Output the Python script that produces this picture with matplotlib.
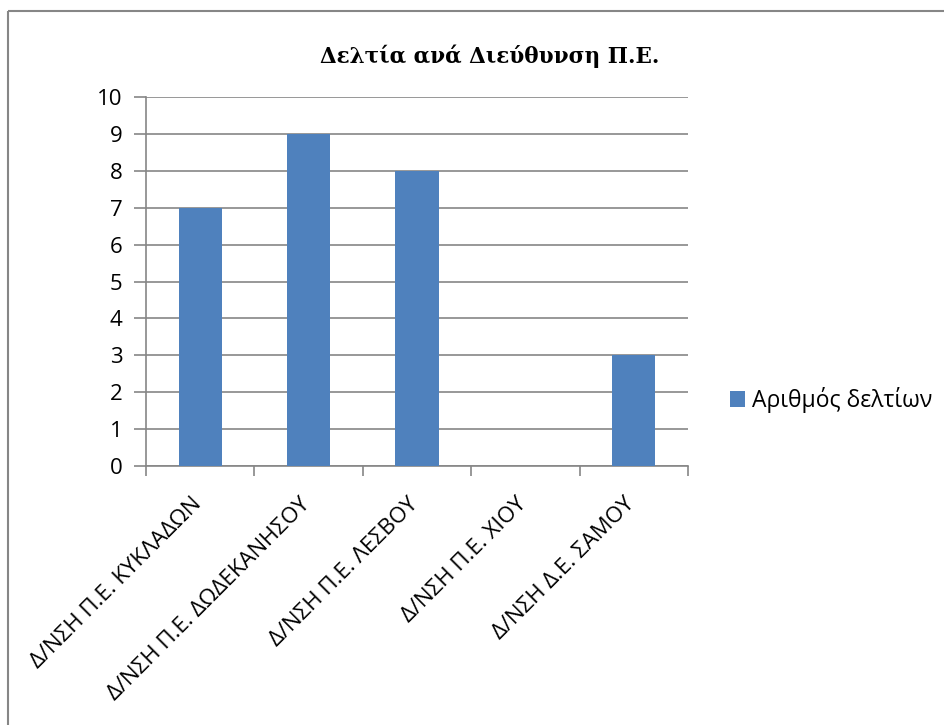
import matplotlib
matplotlib.use("Agg")
import numpy as np
from matplotlib import pyplot as plt
from matplotlib.patches import Rectangle

categories = ["Δ/ΝΣΗ Π.Ε. ΚΥΚΛΑΔΩΝ", "Δ/ΝΣΗ Π.Ε. ΔΩΔΕΚΑΝΗΣΟΥ", "Δ/ΝΣΗ Π.Ε. ΛΕΣΒΟΥ",
              "Δ/ΝΣΗ Π.Ε. ΧΙΟΥ", "Δ/ΝΣΗ Δ.Ε. ΣΑΜΟΥ"]
values = [7, 9, 8, 0, 3]
series_name = "Αριθμός δελτίων"
title = "Δελτία ανά Διεύθυνση Π.Ε."

bar_color = "#4F81BD"
grid_color = "#868686"
fsize = 16

W, H = 945, 725
fig = plt.figure(figsize=(W / 100, H / 100), dpi=100)

# outer chart border (only top and left visible in the crop)
fig.patches.append(Rectangle((8 / W, 1 - 11 / H), 2, -2, transform=fig.transFigure,
                             fill=False, edgecolor=grid_color, linewidth=1.5))

ax = fig.add_axes([146 / W, 1 - 466 / H, (688 - 146) / W, (466 - 97) / H])

x = np.arange(len(categories))
ax.bar(x, values, width=0.4, color=bar_color, label=series_name, zorder=3)

ax.set_xlim(-0.5, len(categories) - 0.5)
ax.set_ylim(0, 10)
ax.set_yticks(range(0, 11))
ax.yaxis.grid(True, color=grid_color, linewidth=1.2, zorder=0)
ax.tick_params(axis="y", length=9, color=grid_color, width=1.2, labelsize=fsize, pad=8)

ax.set_xticks(np.arange(len(categories) + 1) - 0.5)
ax.set_xticklabels([])
ax.tick_params(axis="x", length=7, color=grid_color, width=1.2)
for i, name in enumerate(categories):
    ax.text(i - 0.02, -0.95, name, rotation=45, rotation_mode="anchor",
            ha="right", va="center", fontsize=fsize, family="Open Sans",
            transform=ax.transData, clip_on=False)

for s in ["top", "right"]:
    ax.spines[s].set_visible(False)
for s in ["left", "bottom"]:
    ax.spines[s].set_color(grid_color)
    ax.spines[s].set_linewidth(1.2)
for lab in ax.get_yticklabels():
    lab.set_family("Open Sans")

fig.text(490 / W, 1 - 56 / H, title, ha="center", va="center", fontsize=15.5,
         fontweight="bold", family="DejaVu Serif")

ax.legend(loc="center left", bbox_to_anchor=(709 / W, 1 - 400 / H),
          bbox_transform=fig.transFigure, frameon=False,
          handlelength=0.68, handleheight=0.68, handletextpad=0.3,
          prop={"family": "Open Sans", "size": 16.5})

fig.savefig("out.png", dpi=100)
